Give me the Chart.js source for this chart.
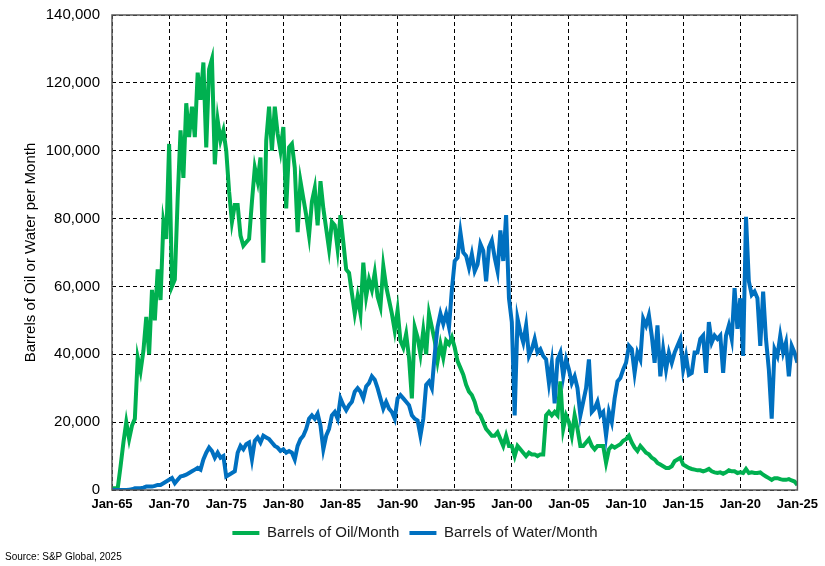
<!DOCTYPE html>
<html>
<head>
<meta charset="utf-8">
<script src="https://cdn.jsdelivr.net/npm/chart.js@4"></script>
<style>
  html, body { margin: 0; padding: 0; background: #fff; }
  #wrap { width: 825px; height: 566px; }
</style>
</head>
<body>
<div id="wrap"><canvas id="prodChart" width="825" height="566"></canvas></div>
<script>
// quarterly readings, Jan-65 .. Jan-25 (one row per year: Jan, Apr, Jul, Oct)
const oilBarrels = [
  500, 500, 500, 7000,            // 1965
  14000, 20000, 15000, 19000,
  21000, 39000, 35000, 41000,
  51000, 40000, 59000, 50000,
  65000, 56000, 79000, 74000,
  102000, 60000, 62000, 86000,    // 1970
  106000, 92000, 114000, 104000,
  113000, 104000, 123000, 115000,
  126000, 101000, 124000, 127000,
  96000, 109000, 103000, 106000,
  100000, 88000, 79000, 84000,    // 1975
  84000, 75000, 72000, 73000,
  74000, 85000, 95000, 91000,
  98000, 67000, 103000, 113000,
  100000, 113000, 105000, 100000,
  107000, 83000, 101000, 102000,  // 1980
  95000, 76000, 91000, 86000,
  81000, 75000, 85000, 89000,
  78000, 91000, 83000, 77000,
  71000, 79000, 78000, 71000,
  81000, 73000, 65000, 64000,     // 1985
  58000, 52000, 57000, 52000,
  67000, 57000, 62000, 59000,
  64000, 57000, 54000, 66000,
  60000, 56000, 52000, 47000,
  53000, 44000, 42000, 46000,     // 1990
  39000, 27000, 48000, 45000,
  40000, 47000, 40000, 52000,
  48000, 44000, 38000, 43000,
  39000, 44000, 43000, 45000,
  42000, 38000, 36000, 34000,     // 1995
  31000, 29000, 28000, 26000,
  23000, 22000, 20000, 18000,
  17000, 16000, 16000, 17000,
  15000, 13000, 16000, 13000,
  13000, 10000, 13000, 12000,     // 2000
  11000, 10000, 11000, 10500,
  10500, 10000, 10500, 10500,
  22000, 23000, 22000, 23000,
  22000, 32000, 18000, 22000,
  20000, 16000, 22000, 18000,     // 2005
  13000, 13000, 14000, 15000,
  13000, 12000, 13000, 13000,
  13000, 8000, 12000, 13000,
  12500, 13000, 13500, 14500,
  15000, 16000, 14000, 12500,     // 2010
  11500, 13000, 12000, 11000,
  10500, 9500, 9000, 8000,
  7500, 7000, 6500, 6500,
  7000, 8500, 9000, 9500,
  7500, 7000, 6500, 6200,         // 2015
  6000, 5800, 5800, 5500,
  5800, 6200, 5500, 5200,
  5000, 5200, 4800, 5200,
  5800, 5500, 5500, 5000,
  5200, 5000, 6200, 5000,         // 2020
  5200, 5000, 5000, 5200,
  4500, 4000, 3500, 3000,
  3500, 3500, 3200, 3000,
  3000, 3200, 2800, 2500,
  1500                            // Jan-25
];

const waterBarrels = [
  0, 0, 0, 0,                     // 1965
  0, 0, 100, 200,
  500, 500, 500, 700,
  1000, 1000, 1000, 1200,
  1500, 1500, 2000, 2500,
  3000, 3500, 2000, 3000,         // 1970
  4000, 4200, 4500, 5000,
  5500, 6000, 6500, 6000,
  9000, 11000, 12500, 11500,
  9500, 11000, 9500, 10000,
  4000, 4500, 5000, 5500,         // 1975
  11000, 13000, 12000, 13500,
  14000, 9000, 14500, 15500,
  14000, 16000, 15500, 15000,
  14000, 13000, 12500, 11500,
  12000, 11000, 11500, 11000,     // 1980
  9000, 13000, 15000, 16000,
  18000, 21000, 22000, 21000,
  22500, 19000, 12000, 16000,
  18000, 22000, 23000, 21000,
  27000, 25000, 23500, 25000,     // 1985
  26000, 29000, 30000, 29000,
  27000, 30500, 31500, 33500,
  32500, 30000, 27000, 24000,
  26000, 24000, 23000, 21000,
  27000, 28000, 27000, 26000,     // 1990
  25000, 22000, 21000, 20500,
  16000, 21000, 31000, 32000,
  30000, 40000, 48000, 52000,
  49000, 52000, 48000, 59000,
  67500, 68500, 76000, 70000,     // 1995
  69000, 65500, 69500, 64500,
  66500, 72500, 70500, 61500,
  71500, 73500, 68500, 64500,
  76500, 67500, 81000, 56500,
  49500, 22000, 50500, 46500,     // 2000
  43500, 48500, 39500, 41500,
  44500, 40500, 41500, 39500,
  38500, 31500, 37500, 25500,
  38500, 40500, 33500, 38500,
  35500, 31500, 33500, 30000,     // 2005
  22000, 26000, 30000, 38500,
  23000, 24000, 26000, 22000,
  23000, 16000, 23000, 20000,
  27000, 32000, 33000, 35500,
  37500, 42500, 41500, 34500,     // 2010
  40500, 38500, 50500, 48500,
  51500, 45500, 37500, 48500,
  33500, 41500, 35500, 40500,
  37500, 40500, 42500, 44500,
  35500, 39500, 34000, 34500,     // 2015
  40500, 40500, 44500, 45500,
  34500, 49500, 43500, 45500,
  44500, 45500, 34500, 45500,
  48500, 44500, 59500, 47500,
  56500, 39500, 80500, 61500,     // 2020
  57500, 58500, 56500, 42500,
  58500, 44500, 35500, 21000,
  41500, 39500, 45500, 40500,
  43500, 33500, 42500, 40500,
  37500                           // Jan-25
];

const startYear = 1965;
const quarters = oilBarrels.map((_, i) => startYear + i / 4);
const tickYears = [1965, 1970, 1975, 1980, 1985, 1990, 1995, 2000, 2005, 2010, 2015, 2020, 2025];
const yTicks = [0, 20000, 40000, 60000, 80000, 100000, 120000, 140000];

const OIL = '#00B050';
const WATER = '#0070C0';

Chart.defaults.font.family = "'Liberation Sans', Arial, sans-serif";
Chart.defaults.color = '#000';

// solid frame round the plot area
const plotFrame = {
  id: 'plotFrame',
  afterDatasetsDraw(chart) {
    const { ctx, chartArea: a } = chart;
    ctx.save();
    ctx.strokeStyle = '#595959';
    ctx.lineWidth = 1.5;
    ctx.strokeRect(a.left, a.top, a.right - a.left, a.bottom - a.top);
    ctx.restore();
  }
};

const toPoints = vals => vals.map((v, i) => ({ x: quarters[i], y: v }));

new Chart(document.getElementById('prodChart').getContext('2d'), {
  type: 'line',
  data: {
    datasets: [
      {
        label: 'Barrels of Oil/Month',
        data: toPoints(oilBarrels),
        borderColor: OIL,
        backgroundColor: OIL,
        borderWidth: 4,
        pointRadius: 0,
        tension: 0,
        order: 1
      },
      {
        label: 'Barrels of Water/Month',
        data: toPoints(waterBarrels),
        borderColor: WATER,
        backgroundColor: WATER,
        borderWidth: 4,
        pointRadius: 0,
        tension: 0,
        order: 0
      }
    ]
  },
  options: {
    responsive: false,
    animation: false,
    layout: { padding: { left: 5, top: 15, right: 0, bottom: 0 } },
    scales: {
      x: {
        type: 'linear',
        min: 1965,
        max: 2025,
        afterBuildTicks: s => { s.ticks = tickYears.map(v => ({ value: v })); },
        afterFit: s => { s.height = 25.5; },
        ticks: {
          padding: 7,
          maxRotation: 0,
          font: { size: 13, weight: 'bold' },
          callback: v => 'Jan-' + String(v).slice(2)
        },
        grid: { color: '#000', lineWidth: 1, drawTicks: false },
        border: { display: false, dash: [4, 3] }
      },
      y: {
        min: 0,
        max: 140000,
        afterBuildTicks: s => { s.ticks = yTicks.map(v => ({ value: v })); },
        afterFit: s => {
          s.width = 107;
          s.paddingTop = 0;
          s.paddingBottom = 0;
        },
        ticks: {
          padding: 12,
          font: { size: 15 },
          callback: v => v.toLocaleString('en-US')
        },
        grid: { color: '#000', lineWidth: 1, drawTicks: false },
        border: { display: false, dash: [4, 3] },
        title: {
          display: true,
          text: 'Barrels of Oil or Water per Month',
          font: { size: 15 },
          padding: { top: 17, bottom: 6 }
        }
      }
    },
    plugins: {
      legend: {
        position: 'bottom',
        labels: {
          usePointStyle: true,
          pointStyle: 'line',
          pointStyleWidth: 27,
          padding: 10,
          font: { size: 15 },
          color: '#1a1a1a',
          sort: (a, b) => a.datasetIndex - b.datasetIndex
        }
      },
      subtitle: {
        display: true,
        text: 'Source: S&P Global, 2025',
        position: 'bottom',
        align: 'start',
        font: { size: 10 },
        color: '#000',
        padding: { top: 0.5, bottom: 3 }
      },
      tooltip: { enabled: false }
    }
  },
  plugins: [plotFrame]
});
</script>
</body>
</html>
